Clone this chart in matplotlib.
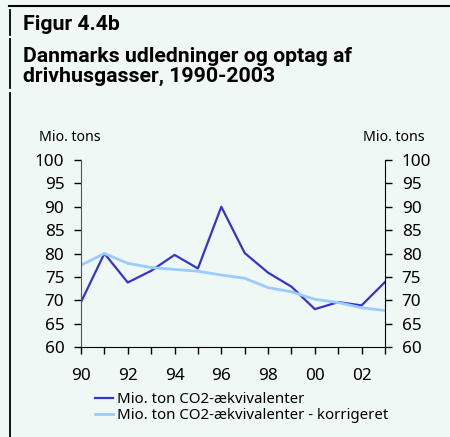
import matplotlib
matplotlib.use("Agg")
import matplotlib.pyplot as plt
from matplotlib.lines import Line2D

plt.rcParams['font.family'] = ['Noto Sans', 'DejaVu Sans']

years = list(range(1990, 2004))
emissions = [69.6, 80.0, 73.8, 76.3, 79.7, 76.8, 90.0, 80.1, 75.9, 72.9, 68.1, 69.6, 68.9, 73.9]
corrected = [77.5, 80.0, 77.9, 77.0, 76.6, 76.2, 75.4, 74.7, 72.7, 71.8, 70.2, 69.5, 68.4, 67.8]
yticks = [60, 65, 70, 75, 80, 85, 90, 95, 100]
xtick_years = [1990, 1992, 1994, 1996, 1998, 2000, 2002]
xtick_labels = ["90", "92", "94", "96", "98", "00", "02"]
series_names = ["Mio. ton CO2-ækvivalenter", "Mio. ton CO2-ækvivalenter - korrigeret"]

bg = "#f0f8f5"
dark = "#3535cc"
light = "#99ccff"

W, H = 450, 437
fig = plt.figure(figsize=(W/100, H/100), dpi=100, facecolor=bg)

def px(x, y):
    return x / W, 1 - y / H

fig.add_artist(Line2D([9/W, 1], [1-6/H, 1-6/H], color="black", lw=1.5, transform=fig.transFigure))
for y0, y1 in [(10, 35), (39, 88), (93, 437)]:
    fig.add_artist(Line2D([10/W, 10/W], [1-y0/H, 1-y1/H], color="black", lw=1.3, transform=fig.transFigure))

tf = dict(family=['Roboto', 'DejaVu Sans'], fontsize=15.3, fontweight="bold", ha="left", va="baseline")
fig.text(*px(23, 30), "Figur 4.4b", **tf)
fig.text(*px(23, 62), "Danmarks udledninger og optag af", **tf)
fig.text(*px(23, 82), "drivhusgasser, 1990-2003", **tf)

left, right, top, bottom = 81, 385, 160, 347
ax = fig.add_axes([left/W, 1-bottom/H, (right-left)/W, (bottom-top)/H])
ax.set_facecolor(bg)
ax.plot(years, emissions, color=dark, lw=1.6)
ax.plot(years, corrected, color=light, lw=2.0)
ax.set_xlim(1990, 2003)
ax.set_ylim(60, 100)
ax.spines['top'].set_visible(False)
ax.spines['left'].set_color("#555555")
ax.set_yticks(yticks)
ax.set_yticklabels([str(v) for v in yticks], fontsize=12.3)
ax.set_xticks(years, minor=True)
ax.set_xticks(xtick_years)
ax.set_xticklabels(xtick_labels, fontsize=12.3)
ax.tick_params(axis='y', which='both', direction='out', length=5, width=1, pad=7, left=True, right=True,
               labelleft=True, labelright=True)
ax.tick_params(axis='x', which='both', direction='out', length=5, width=1, pad=10)

fig.text(*px(39, 141), "Mio. tons", fontsize=10.2, ha="left", va="baseline")
fig.text(*px(425, 141), "Mio. tons", fontsize=10.2, ha="right", va="baseline")

handles = [Line2D([], [], color=dark, lw=1.6), Line2D([], [], color=light, lw=2.0)]
fig.legend(handles, series_names, loc="upper left", bbox_to_anchor=(95/W, 1-392/H),
           frameon=False, fontsize=10.8, handlelength=1.2, handletextpad=0.25,
           labelspacing=0.05, borderaxespad=0, borderpad=0)

fig.savefig("out.png", dpi=100, facecolor=bg)
